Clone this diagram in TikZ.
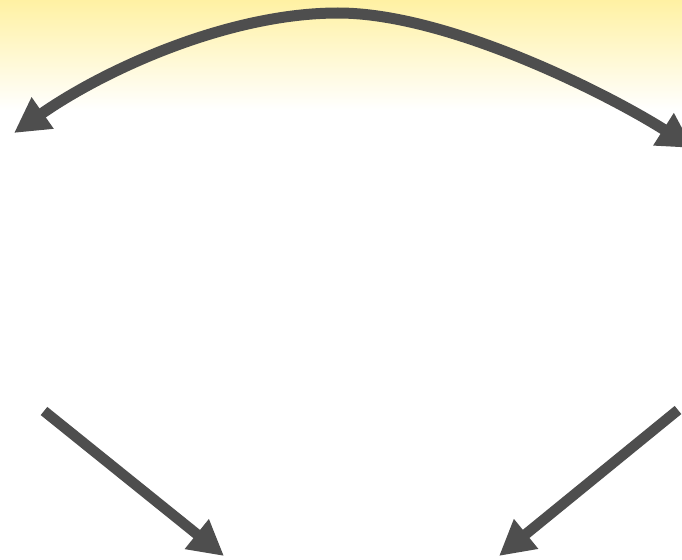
\documentclass[tikz,border=0pt]{standalone}
\usetikzlibrary{arrows.meta}
\definecolor{arrowgray}{RGB}{78,78,78}
\definecolor{topyellow}{RGB}{255,241,163}
\begin{document}
\begin{tikzpicture}[x=1pt,y=-1pt,
  tip/.tip={Triangle[length=35pt,width=36pt]},
  bigarrow/.style={draw=arrowgray, line width=10.5pt, -tip},
  dblarrow/.style={draw=arrowgray, line width=11pt, tip-tip}]
\useasboundingbox (0,0) rectangle (682,559);
\shade[top color=topyellow, middle color=topyellow!40!white, bottom color=white] (0,0) rectangle (682,110);
\coordinate (L) at (14,133);
\coordinate (M) at (338,13);
\coordinate (R) at (693,148);
\coordinate (BLs) at (44,411);
\coordinate (BLe) at (224,556);
\coordinate (BRs) at (678,410);
\coordinate (BRe) at (499,556);
\draw[dblarrow] (L) .. controls (104,70) and (228,13) .. (M)
                    .. controls (448,13) and (608,94) .. (R);
\draw[bigarrow] (BLs) -- (BLe);
\draw[bigarrow] (BRs) -- (BRe);
\end{tikzpicture}
\end{document}
